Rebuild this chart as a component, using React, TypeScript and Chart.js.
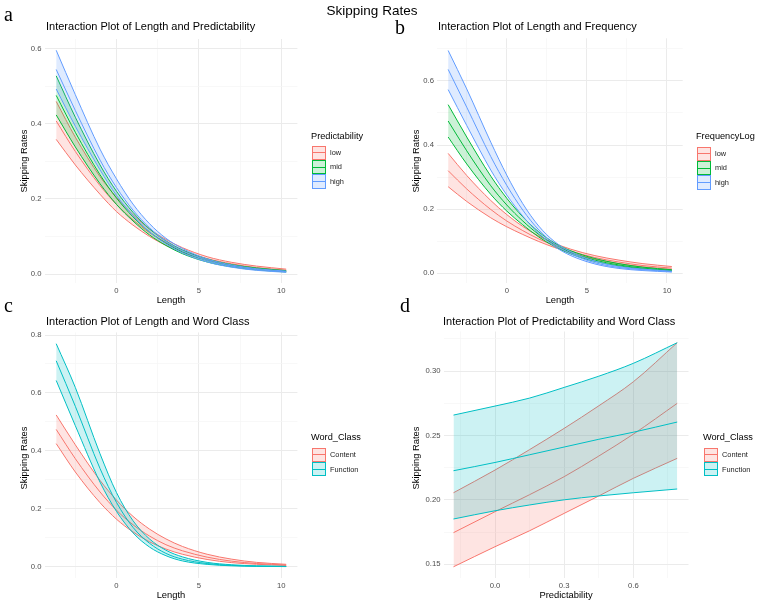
import React, { useEffect, useRef } from "react";
import { Chart, registerables } from "chart.js";

Chart.register(...registerables);

// ---------- data ----------
const LEN_X = [-3.66, -2.5, -1, 0, 1, 2, 3, 4, 5.5, 7, 8.5, 10.3];

// Panel a: Length x Predictability
const A_LOW_LO = [0.358, 0.29, 0.212, 0.166, 0.13, 0.1, 0.076, 0.057, 0.037, 0.023, 0.014, 0.0077];
const A_LOW_MID = [0.407, 0.326, 0.235, 0.185, 0.144, 0.11, 0.084, 0.063, 0.041, 0.027, 0.017, 0.01];
const A_LOW_UP = [0.459, 0.364, 0.259, 0.204, 0.158, 0.12, 0.092, 0.07, 0.046, 0.031, 0.021, 0.0129];
const A_MID_LO = [0.423, 0.338, 0.24, 0.185, 0.141, 0.104, 0.076, 0.054, 0.032, 0.019, 0.011, 0.0054];
const A_MID_MID = [0.475, 0.377, 0.264, 0.202, 0.152, 0.112, 0.082, 0.059, 0.036, 0.022, 0.013, 0.007];
const A_MID_UP = [0.527, 0.417, 0.29, 0.22, 0.164, 0.12, 0.088, 0.064, 0.04, 0.025, 0.016, 0.009];
const A_HIGH_LO = [0.492, 0.393, 0.277, 0.209, 0.155, 0.112, 0.08, 0.056, 0.032, 0.018, 0.0097, 0.0046];
const A_HIGH_MID = [0.544, 0.435, 0.303, 0.23, 0.17, 0.123, 0.087, 0.062, 0.036, 0.021, 0.012, 0.006];
const A_HIGH_UP = [0.595, 0.477, 0.332, 0.253, 0.186, 0.134, 0.095, 0.068, 0.04, 0.024, 0.014, 0.0078];

// Panel b: Length x FrequencyLog
const B_LOW_LO = [0.27, 0.224, 0.173, 0.145, 0.121, 0.099, 0.08, 0.064, 0.044, 0.03, 0.02, 0.012];
const B_LOW_MID = [0.32, 0.263, 0.199, 0.163, 0.133, 0.107, 0.086, 0.069, 0.049, 0.035, 0.024, 0.016];
const B_LOW_UP = [0.374, 0.305, 0.227, 0.183, 0.146, 0.116, 0.093, 0.075, 0.055, 0.041, 0.03, 0.021];
const B_MID_LO = [0.425, 0.341, 0.246, 0.194, 0.151, 0.113, 0.083, 0.06, 0.037, 0.023, 0.014, 0.0072];
const B_MID_MID = [0.475, 0.382, 0.273, 0.213, 0.163, 0.121, 0.089, 0.065, 0.041, 0.026, 0.016, 0.009];
const B_MID_UP = [0.526, 0.425, 0.303, 0.234, 0.176, 0.129, 0.094, 0.07, 0.046, 0.03, 0.019, 0.011];
const B_HIGH_LO = [0.573, 0.461, 0.322, 0.244, 0.178, 0.124, 0.083, 0.055, 0.029, 0.015, 0.0084, 0.0038];
const B_HIGH_MID = [0.636, 0.518, 0.364, 0.274, 0.197, 0.135, 0.09, 0.061, 0.033, 0.018, 0.011, 0.005];
const B_HIGH_UP = [0.695, 0.575, 0.409, 0.306, 0.217, 0.147, 0.098, 0.067, 0.038, 0.021, 0.013, 0.0066];

// Panel c: Length x Word Class
const C_CON_LO = [0.425, 0.327, 0.221, 0.164, 0.12, 0.086, 0.061, 0.043, 0.025, 0.014, 0.0084, 0.0043];
const C_CON_MID = [0.474, 0.373, 0.258, 0.195, 0.145, 0.106, 0.076, 0.055, 0.033, 0.019, 0.011, 0.006];
const C_CON_UP = [0.524, 0.421, 0.298, 0.23, 0.174, 0.13, 0.096, 0.07, 0.043, 0.026, 0.015, 0.0083];
const C_FUN_LO = [0.643, 0.487, 0.292, 0.191, 0.117, 0.068, 0.038, 0.02, 0.008, 0.0031, 0.0012, 0.0004];
const C_FUN_MID = [0.711, 0.554, 0.339, 0.222, 0.136, 0.081, 0.046, 0.026, 0.011, 0.0046, 0.0019, 0.0007];
const C_FUN_UP = [0.77, 0.619, 0.39, 0.256, 0.159, 0.096, 0.057, 0.034, 0.015, 0.0067, 0.003, 0.0011];

// Panel d: Predictability x Word Class
const PRED_X = [-0.18, 0, 0.15, 0.3, 0.45, 0.6, 0.79];
const D_CON_LO = [0.148, 0.1636, 0.176, 0.1895, 0.203, 0.2167, 0.2322];
const D_CON_MID = [0.1745, 0.1908, 0.204, 0.218, 0.234, 0.251, 0.2749];
const D_CON_UP = [0.2055, 0.2231, 0.239, 0.2555, 0.273, 0.2917, 0.322];
const D_FUN_LO = [0.1851, 0.1915, 0.196, 0.2, 0.203, 0.2055, 0.2084];
const D_FUN_MID = [0.2226, 0.229, 0.235, 0.241, 0.247, 0.2525, 0.2604];
const D_FUN_UP = [0.2658, 0.2728, 0.279, 0.2873, 0.296, 0.306, 0.322];

// ticks
const LEN_TICKS = [0, 5, 10];
const LEN_TICK_LABELS = ["0", "5", "10"];
const LEN_MINOR = [-2.5, 2.5, 7.5];
const AB_Y_TICKS = [0, 0.2, 0.4, 0.6];
const AB_Y_LABELS = ["0.0", "0.2", "0.4", "0.6"];
const AB_Y_MINOR = [0.1, 0.3, 0.5, 0.7];
const C_Y_TICKS = [0, 0.2, 0.4, 0.6, 0.8];
const C_Y_LABELS = ["0.0", "0.2", "0.4", "0.6", "0.8"];
const C_Y_MINOR = [0.1, 0.3, 0.5, 0.7];
const D_X_TICKS = [0, 0.3, 0.6];
const D_X_LABELS = ["0.0", "0.3", "0.6"];
const D_X_MINOR = [-0.15, 0.15, 0.45, 0.75];
const D_Y_TICKS = [0.15, 0.2, 0.25, 0.3];
const D_Y_LABELS = ["0.15", "0.20", "0.25", "0.30"];
const D_Y_MINOR = [0.175, 0.225, 0.275, 0.325];

const PRED_LEVELS = ["low", "mid", "high"];
const FREQ_LEVELS = ["low", "mid", "high"];
const CLASS_LEVELS = ["Content", "Function"];

// ---------- style ----------
const RED = "#F8766D";
const GREEN = "#00BA38";
const BLUE = "#619CFF";
const CYAN = "#00BFC4";
const FONT = "'Liberation Sans', Arial, Helvetica, sans-serif";
const SERIF = "'Liberation Serif', 'Times New Roman', serif";

function rgba(hex: string, a: number) {
  const n = parseInt(hex.slice(1), 16);
  return `rgba(${(n >> 16) & 255},${(n >> 8) & 255},${n & 255},${a})`;
}

type Group = { color: string; x: number[]; lo: number[]; mid: number[]; up: number[] };
type PanelCfg = {
  left: number;
  top: number;
  width: number;
  height: number;
  pad: { top: number; right: number };
  yWidth: number;
  xHeight: number;
  xMin: number;
  xMax: number;
  yMin: number;
  yMax: number;
  xMajor: number[];
  xLabels: string[];
  xMinor: number[];
  yMajor: number[];
  yLabels: string[];
  yMinor: number[];
  groups: Group[];
};

function makeAxis(
  min: number,
  max: number,
  major: number[],
  labels: string[],
  minor: number[],
  fit: (s: any) => void
) {
  const all = [...major, ...minor].filter((v) => v >= min && v <= max).sort((a, b) => a - b);
  const isMajor = (v: any) => typeof v === "number" && major.some((m) => Math.abs(m - v) < 1e-9);
  return {
    type: "linear",
    min,
    max,
    afterBuildTicks: (s: any) => {
      s.ticks = all.map((v) => ({ value: v }));
    },
    afterFit: fit,
    border: { display: false },
    grid: {
      drawTicks: false,
      color: (ctx: any) => (isMajor(ctx.tick && ctx.tick.value) ? "#EBEBEB" : "#F5F5F5"),
      lineWidth: (ctx: any) => (isMajor(ctx.tick && ctx.tick.value) ? 1 : 0.7),
    },
    ticks: {
      autoSkip: false,
      maxRotation: 0,
      minRotation: 0,
      padding: 3,
      color: "#4D4D4D",
      font: { family: FONT, size: 7.7 },
      callback: (v: any) => {
        const i = major.findIndex((m) => Math.abs(m - v) < 1e-9);
        return i >= 0 ? labels[i] : "";
      },
    },
  };
}

function pts(xs: number[], ys: number[]) {
  return xs.map((x, i) => ({ x, y: ys[i] }));
}

function Panel({ cfg }: { cfg: PanelCfg }) {
  const ref = useRef<HTMLCanvasElement | null>(null);
  useEffect(() => {
    if (!ref.current) return;
    const datasets: any[] = [];
    cfg.groups.forEach((g, gi) => {
      const base = (cfg.groups.length - gi) * 10;
      const common = {
        borderColor: g.color,
        borderWidth: 1,
        pointRadius: 0,
        pointHoverRadius: 0,
        cubicInterpolationMode: "monotone",
      };
      datasets.push({ ...common, data: pts(g.x, g.lo), fill: false, order: base + 1 });
      datasets.push({
        ...common,
        data: pts(g.x, g.up),
        fill: "-1",
        backgroundColor: rgba(g.color, 0.2),
        order: base + 2,
      });
      datasets.push({ ...common, data: pts(g.x, g.mid), fill: false, order: base });
    });
    const chart = new Chart(ref.current, {
      type: "line",
      data: { datasets },
      options: {
        animation: false,
        responsive: false,
        events: [],
        layout: { padding: { left: 0, top: cfg.pad.top, right: cfg.pad.right, bottom: 0 } },
        plugins: { legend: { display: false }, tooltip: { enabled: false }, title: { display: false } },
        scales: {
          x: makeAxis(cfg.xMin, cfg.xMax, cfg.xMajor, cfg.xLabels, cfg.xMinor, (s: any) => {
            s.height = cfg.xHeight;
          }),
          y: makeAxis(cfg.yMin, cfg.yMax, cfg.yMajor, cfg.yLabels, cfg.yMinor, (s: any) => {
            s.width = cfg.yWidth;
          }),
        },
      } as any,
    });
    return () => chart.destroy();
  }, []);
  return (
    <canvas
      ref={ref}
      width={cfg.width}
      height={cfg.height}
      style={{ position: "absolute", left: cfg.left, top: cfg.top, width: cfg.width, height: cfg.height }}
    />
  );
}

function Txt({
  x,
  y,
  size,
  text,
  anchor = "start",
  serif = false,
  color = "#000",
}: {
  x: number;
  y: number;
  size: number;
  text: string;
  anchor?: "start" | "middle";
  serif?: boolean;
  color?: string;
}) {
  const asc = serif ? 0.8375 : 0.8465;
  const style: React.CSSProperties = {
    position: "absolute",
    top: y - asc * size,
    fontSize: size,
    lineHeight: `${size}px`,
    fontFamily: serif ? SERIF : FONT,
    color,
    whiteSpace: "nowrap",
    WebkitFontSmoothing: "antialiased",
    willChange: "transform",
  };
  if (anchor === "middle") {
    style.left = x - 200;
    style.width = 400;
    style.textAlign = "center";
  } else {
    style.left = x;
  }
  return <div style={style}>{text}</div>;
}

function VTxt({ cx, cy, size, text }: { cx: number; cy: number; size: number; text: string }) {
  return (
    <div
      style={{
        position: "absolute",
        left: cx,
        top: cy,
        fontSize: size,
        lineHeight: `${size}px`,
        fontFamily: FONT,
        color: "#000",
        whiteSpace: "nowrap",
        transform: "translate(-50%, -50%) rotate(-90deg)",
      }}
    >
      {text}
    </div>
  );
}

function Legend({
  x,
  titleY,
  keyTop,
  title,
  labels,
  colors,
}: {
  x: number;
  titleY: number;
  keyTop: number;
  title: string;
  labels: string[];
  colors: string[];
}) {
  const K = 14.4;
  return (
    <>
      <Txt x={x} y={titleY} size={9.2} text={title} />
      {labels.map((lab, i) => (
        <React.Fragment key={lab}>
          <div
            style={{
              position: "absolute",
              left: x + 0.5,
              top: keyTop + i * K,
              width: K,
              height: K,
              boxSizing: "border-box",
              border: `1px solid ${colors[i]}`,
              background: rgba(colors[i], 0.2),
            }}
          >
            <div
              style={{
                position: "absolute",
                left: 0,
                right: 0,
                top: K / 2 - 1.5,
                height: 1,
                background: colors[i],
              }}
            />
          </div>
          <Txt x={x + 19} y={keyTop + i * K + K / 2 + 2.6} size={7.4} text={lab} color="#1A1A1A" />
        </React.Fragment>
      ))}
    </>
  );
}

const PANEL_A: PanelCfg = {
  left: 0,
  top: 30,
  width: 300,
  height: 290,
  pad: { top: 9, right: 2.6 },
  yWidth: 44.5,
  xHeight: 36.6,
  xMin: -4.37,
  xMax: 10.98,
  yMin: -0.025,
  yMax: 0.625,
  xMajor: LEN_TICKS,
  xLabels: LEN_TICK_LABELS,
  xMinor: LEN_MINOR,
  yMajor: AB_Y_TICKS,
  yLabels: AB_Y_LABELS,
  yMinor: AB_Y_MINOR,
  groups: [
    { color: RED, x: LEN_X, lo: A_LOW_LO, mid: A_LOW_MID, up: A_LOW_UP },
    { color: GREEN, x: LEN_X, lo: A_MID_LO, mid: A_MID_MID, up: A_MID_UP },
    { color: BLUE, x: LEN_X, lo: A_HIGH_LO, mid: A_HIGH_MID, up: A_HIGH_UP },
  ],
};

const PANEL_B: PanelCfg = {
  left: 380,
  top: 30,
  width: 305,
  height: 290,
  pad: { top: 8.3, right: 2.3 },
  yWidth: 57,
  xHeight: 36.8,
  xMin: -4.356,
  xMax: 10.98,
  yMin: -0.031,
  yMax: 0.733,
  xMajor: LEN_TICKS,
  xLabels: LEN_TICK_LABELS,
  xMinor: LEN_MINOR,
  yMajor: AB_Y_TICKS,
  yLabels: AB_Y_LABELS,
  yMinor: AB_Y_MINOR,
  groups: [
    { color: RED, x: LEN_X, lo: B_LOW_LO, mid: B_LOW_MID, up: B_LOW_UP },
    { color: GREEN, x: LEN_X, lo: B_MID_LO, mid: B_MID_MID, up: B_MID_UP },
    { color: BLUE, x: LEN_X, lo: B_HIGH_LO, mid: B_HIGH_MID, up: B_HIGH_UP },
  ],
};

const PANEL_C: PanelCfg = {
  left: 0,
  top: 320,
  width: 300,
  height: 280,
  pad: { top: 12.4, right: 2.6 },
  yWidth: 44.5,
  xHeight: 22,
  xMin: -4.37,
  xMax: 10.98,
  yMin: -0.039,
  yMax: 0.809,
  xMajor: LEN_TICKS,
  xLabels: LEN_TICK_LABELS,
  xMinor: LEN_MINOR,
  yMajor: C_Y_TICKS,
  yLabels: C_Y_LABELS,
  yMinor: C_Y_MINOR,
  groups: [
    { color: RED, x: LEN_X, lo: C_CON_LO, mid: C_CON_MID, up: C_CON_UP },
    { color: CYAN, x: LEN_X, lo: C_FUN_LO, mid: C_FUN_MID, up: C_FUN_UP },
  ],
};

const PANEL_D: PanelCfg = {
  left: 380,
  top: 320,
  width: 310,
  height: 280,
  pad: { top: 11.5, right: 1.5 },
  yWidth: 63.5,
  xHeight: 22,
  xMin: -0.2233,
  xMax: 0.839,
  yMin: 0.1393,
  yMax: 0.3307,
  xMajor: D_X_TICKS,
  xLabels: D_X_LABELS,
  xMinor: D_X_MINOR,
  yMajor: D_Y_TICKS,
  yLabels: D_Y_LABELS,
  yMinor: D_Y_MINOR,
  groups: [
    { color: RED, x: PRED_X, lo: D_CON_LO, mid: D_CON_MID, up: D_CON_UP },
    { color: CYAN, x: PRED_X, lo: D_FUN_LO, mid: D_FUN_MID, up: D_FUN_UP },
  ],
};

export default function App() {
  return (
    <div
      style={{
        position: "absolute",
        left: 0,
        top: 0,
        width: 760,
        height: 605,
        background: "#fff",
        overflow: "hidden",
        fontFamily: FONT,
      }}
    >
      <Panel cfg={PANEL_A} />
      <Panel cfg={PANEL_B} />
      <Panel cfg={PANEL_C} />
      <Panel cfg={PANEL_D} />

      <Txt x={372} y={15} size={13.5} text="Skipping Rates" anchor="middle" />

      <Txt x={3.5} y={20.7} size={20} text="a" serif />
      <Txt x={394.5} y={33.3} size={20} text="b" serif />
      <Txt x={3.5} y={311.7} size={20} text="c" serif />
      <Txt x={399.5} y={311.7} size={20} text="d" serif />

      <Txt x={45.5} y={30} size={11} text="Interaction Plot of Length and Predictability" />
      <Txt x={438} y={30} size={11} text="Interaction Plot of Length and Frequency" />
      <Txt x={45.5} y={325} size={11} text="Interaction Plot of Length and Word Class" />
      <Txt x={442.5} y={325} size={11} text="Interaction Plot of Predictability and Word Class" />

      <Txt x={171} y={303} size={9.4} text="Length" anchor="middle" />
      <Txt x={560} y={303} size={9.4} text="Length" anchor="middle" />
      <Txt x={171} y={598} size={9.4} text="Length" anchor="middle" />
      <Txt x={566} y={598} size={9.4} text="Predictability" anchor="middle" />

      <VTxt cx={23.8} cy={161} size={9.4} text="Skipping Rates" />
      <VTxt cx={415.5} cy={161} size={9.4} text="Skipping Rates" />
      <VTxt cx={23.8} cy={458} size={9.4} text="Skipping Rates" />
      <VTxt cx={415.5} cy={458} size={9.4} text="Skipping Rates" />

      <Legend x={311} titleY={140} keyTop={145.5} title="Predictability" labels={PRED_LEVELS} colors={[RED, GREEN, BLUE]} />
      <Legend x={696} titleY={140} keyTop={146.5} title="FrequencyLog" labels={FREQ_LEVELS} colors={[RED, GREEN, BLUE]} />
      <Legend x={311} titleY={440.6} keyTop={447.7} title="Word_Class" labels={CLASS_LEVELS} colors={[RED, CYAN]} />
      <Legend x={703.3} titleY={440.6} keyTop={447.7} title="Word_Class" labels={CLASS_LEVELS} colors={[RED, CYAN]} />
    </div>
  );
}
